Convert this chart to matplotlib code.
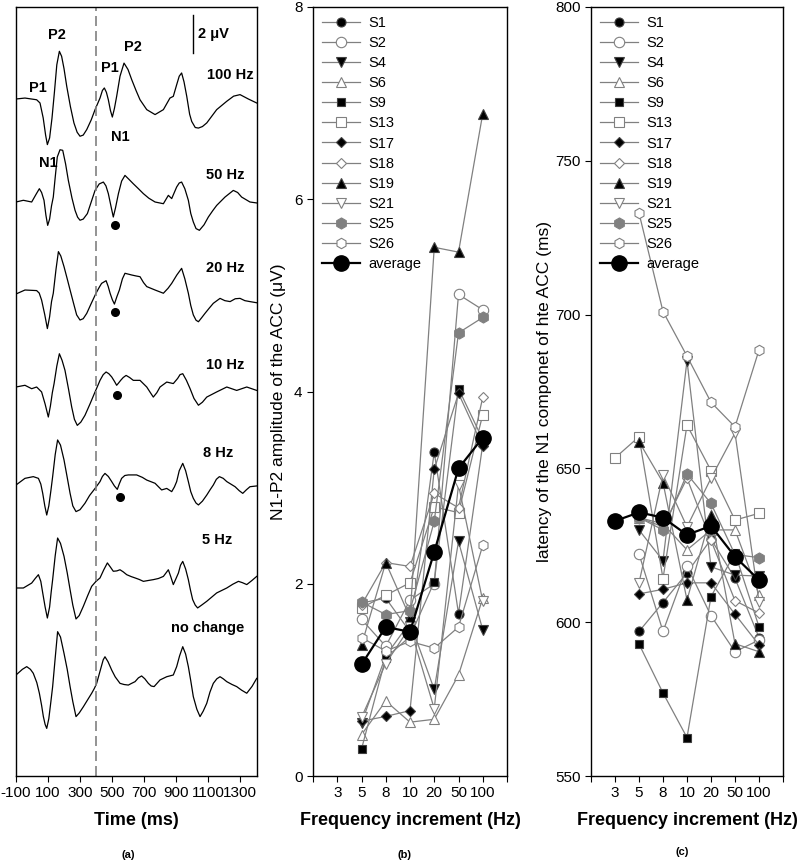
import numpy as np
import matplotlib
matplotlib.use('Agg')
import matplotlib.pyplot as plt

plt.rcParams['font.family'] = ['Liberation Sans', 'DejaVu Sans']
plt.rcParams['axes.unicode_minus'] = False

nan = np.nan

# ---- panel (a): averaged waveforms, time (ms) and amplitude (uV)
t_100 = [-100, -44, 29, 50, 70, 85, 96, 110, 125, 140, 155, 171, 185, 200, 217, 240, 262, 282, 300, 320, 342,
         370, 394, 425, 440, 452, 465, 477, 490, 502, 515, 529, 550, 575, 600, 623, 650, 675, 717, 769, 821,
         862, 883, 904, 920, 935, 950, 967, 985, 998, 1020, 1040, 1065, 1092, 1154, 1217, 1260, 1300, 1352, 1404]
w_100 = [0, 0.05, -0.04, -0.21, -1.0, -1.9, -2.40, -2.05, -1.0, 0.35, 1.8, 2.51, 2.25, 1.6, 0.67, -0.4, -1.26,
         -1.75, -1.96, -1.9, -1.61, -1.1, -0.56, 0.05, 0.45, 0.58, 0.35, -0.04, -0.6, -0.95, -0.5, 0.14, 1.2,
         1.89, 1.55, 1.02, 0.45, -0.04, -0.56, -0.82, -0.56, 0.05, 0.14, 0.75, 1.2, 1.37, 0.9, 0.14, -0.8,
         -1.18, -1.5, -1.53, -1.45, -1.26, -0.56, -0.12, 0.15, 0.23, 0, -0.21]

t_50 = [-100, -54, -2, 25, 46, 60, 75, 87, 98, 110, 122, 133, 145, 158, 175, 192, 210, 227, 250, 269, 285,
        300, 320, 346, 370, 394, 420, 446, 462, 477, 493, 508, 522, 540, 560, 581, 605, 633, 665, 696, 730,
        769, 821, 852, 873, 904, 920, 935, 955, 977, 992, 1008, 1025, 1046, 1075, 1102, 1130, 1154, 1206,
        1258, 1285, 1310, 1362, 1404]
w_50 = [0, 0.09, 0, 0.4, 0.70, 0.5, 0.09, -0.7, -1.23, -0.9, -0.2, 0.26, 1.3, 2.37, 2.75, 2.72, 2.0, 1.14,
        0.2, -0.44, -0.8, -0.96, -0.9, -0.61, 0.0, 0.61, 0.95, 1.05, 0.85, 0.44, -0.2, -0.79, -0.3, 0.44, 1.1,
        1.40, 1.2, 0.96, 0.7, 0.44, 0.2, 0, -0.09, 0.35, 0.18, 0.79, 1.0, 1.05, 0.7, 0.09, -0.6, -1.05, -1.4,
        -1.49, -1.2, -0.79, -0.45, -0.18, 0.26, 0.61, 0.5, 0.26, 0, -0.05]

t_20 = [-100, -44, 29, 45, 60, 80, 96, 110, 122, 133, 150, 165, 180, 200, 220, 238, 260, 279, 300, 320, 342,
        370, 400, 420, 435, 463, 476, 488, 502, 515, 530, 546, 565, 581, 600, 623, 650, 675, 697, 717, 769,
        821, 850, 873, 905, 935, 955, 977, 992, 1008, 1025, 1040, 1060, 1081, 1107, 1133, 1175, 1205, 1238,
        1270, 1300, 1330, 1362, 1404]
w_20 = [0, 0.21, 0.18, 0.05, -0.32, -1.1, -1.82, -1.2, -0.4, 0.04, 1.3, 2.23, 2.0, 1.44, 0.8, 0.21, -0.5,
        -1.10, -1.37, -1.3, -1.02, -0.5, 0.04, 0.35, 0.56, 0.70, 0.4, 0.04, -0.3, -0.53, -0.15, 0.21, 0.8,
        1.09, 1.05, 1.00, 0.95, 0.91, 0.6, 0.39, 0.21, 0.04, 0.3, 0.56, 1.0, 1.35, 0.8, 0.04, -0.6, -1.10,
        -1.38, -1.46, -1.25, -1.02, -0.75, -0.49, -0.23, -0.35, -0.40, -0.25, -0.23, -0.35, -0.40, -0.46]

t_10 = [-100, -44, -2, 29, 60, 82, 102, 115, 127, 138, 155, 171, 188, 206, 228, 248, 265, 283, 305, 331, 362,
        394, 410, 425, 445, 463, 480, 498, 515, 529, 540, 554, 570, 588, 610, 633, 675, 717, 740, 758, 780,
        800, 842, 883, 910, 925, 942, 965, 988, 1012, 1040, 1065, 1092, 1154, 1217, 1279, 1342, 1404]
w_10 = [0, 0.09, -0.09, 0, -0.26, -0.9, -1.58, -1.0, -0.3, 0.18, 1.1, 1.75, 1.4, 0.88, -0.1, -1.05, -1.7,
        -2.02, -1.85, -1.49, -0.9, -0.26, 0.05, 0.35, 0.65, 0.79, 0.7, 0.53, 0.3, 0.09, 0.2, 0.35, 0.5, 0.61,
        0.5, 0.35, 0.35, 0, -0.3, -0.53, -0.3, 0, 0.26, 0.18, 0.45, 0.65, 0.70, 0.35, -0.09, -0.6, -0.96,
        -0.8, -0.53, -0.26, 0, -0.18, 0, -0.18]

t_8 = [-100, -44, 8, 40, 55, 67, 80, 92, 105, 118, 129, 145, 160, 178, 200, 220, 238, 255, 275, 300, 331,
       360, 394, 425, 440, 456, 477, 498, 515, 533, 545, 560, 580, 602, 654, 690, 717, 769, 810, 842, 873,
       890, 904, 920, 942, 960, 977, 992, 1008, 1025, 1040, 1065, 1092, 1113, 1133, 1152, 1171, 1195, 1217,
       1269, 1295, 1317, 1340, 1362, 1404]
w_8 = [0, 0.35, 0.44, 0.35, 0.05, -0.44, -1.1, -1.58, -1.1, -0.3, 0.44, 1.6, 2.37, 2.1, 1.32, 0.4, -0.44,
       -1.1, -1.40, -1.3, -0.96, -0.55, -0.18, 0.18, 0.45, 0.61, 0.45, 0.18, -0.05, -0.23, 0.05, 0.35, 0.5,
       0.53, 0.53, 0.4, 0.26, 0.09, -0.26, -0.18, -0.35, -0.1, 0.18, 0.75, 1.14, 0.75, 0.18, -0.35, -0.70,
       -0.95, -1.05, -0.85, -0.53, -0.25, 0, 0.3, 0.44, 0.35, 0.18, -0.09, -0.3, -0.44, -0.25, -0.09, -0.05]

t_5 = [-100, -54, -2, 20, 40, 55, 67, 82, 96, 110, 120, 129, 145, 160, 178, 200, 220, 238, 255, 275, 295,
       321, 348, 373, 400, 425, 448, 471, 490, 508, 530, 550, 570, 592, 620, 644, 670, 696, 730, 758, 790,
       821, 838, 852, 867, 883, 900, 915, 928, 942, 960, 977, 990, 1004, 1020, 1035, 1060, 1092, 1154, 1217,
       1255, 1290, 1315, 1342, 1375, 1404]
w_5 = [0, 0, 0.26, 0.5, 0.70, 0.35, -0.26, -1.0, -1.58, -1.0, -0.2, 0.44, 1.7, 2.63, 2.35, 1.67, 0.8, -0.09,
       -0.9, -1.63, -1.45, -0.96, -0.4, 0.09, 0.35, 0.53, 0.95, 1.32, 1.1, 0.88, 0.9, 0.96, 0.85, 0.70, 0.6,
       0.53, 0.45, 0.35, 0.4, 0.44, 0.5, 0.61, 0.8, 0.96, 0.6, 0.18, 0.5, 0.79, 1.2, 1.40, 1.0, 0.44, -0.1,
       -0.61, -0.9, -1.05, -0.9, -0.70, -0.26, 0, 0.2, 0.35, 0.28, 0.18, 0.4, 0.61]

t_0 = [-100, -60, -33, -10, 8, 30, 46, 60, 71, 82, 92, 105, 118, 129, 145, 160, 178, 200, 220, 238, 255, 275,
       295, 321, 348, 373, 390, 404, 430, 445, 456, 475, 498, 520, 550, 575, 602, 620, 644, 665, 685, 705,
       727, 745, 763, 780, 800, 842, 883, 904, 922, 942, 960, 977, 992, 1008, 1030, 1050, 1070, 1092, 1112,
       1133, 1155, 1175, 1195, 1217, 1250, 1279, 1310, 1342, 1375, 1404]
w_0 = [0, 0.3, 0.44, 0.3, 0.09, -0.4, -0.96, -1.6, -2.19, -2.6, -2.81, -2.3, -1.4, -0.61, 0.9, 2.28, 2.0,
       1.14, 0.3, -0.61, -1.4, -2.19, -2.0, -1.67, -1.3, -0.96, -0.7, -0.44, 0.35, 0.8, 0.96, 0.7, 0.26, -0.1,
       -0.44, -0.5, -0.53, -0.45, -0.35, -0.15, -0.05, -0.2, -0.44, -0.58, -0.61, -0.45, -0.26, -0.09, 0,
       0.44, 1.0, 1.49, 1.1, 0.44, -0.3, -1.14, -1.8, -2.19, -1.9, -1.49, -0.9, -0.44, -0.2, -0.09, -0.2,
       -0.35, -0.5, -0.61, -0.8, -0.96, -0.6, -0.18]

trace_names = ['100 Hz', '50 Hz', '20 Hz', '10 Hz', '8 Hz', '5 Hz', 'no change']
trace_t = [t_100, t_50, t_20, t_10, t_8, t_5, t_0]
trace_w = [w_100, w_50, w_20, w_10, w_8, w_5, w_0]
n1_time = [519, 519, 533, 550]          # ACC N1 dots (50, 20, 10, 8 Hz)

# ---- panels (b) and (c)
freq_labels = ['3', '5', '8', '10', '20', '50', '100']
subjects = ['S1', 'S2', 'S4', 'S6', 'S9', 'S13', 'S17', 'S18', 'S19', 'S21', 'S25', 'S26']

amp_S1 = [nan, 1.80, 1.85, 1.50, 3.37, 1.69, 3.45]
amp_S2 = [nan, 1.63, 1.35, 1.83, 2.00, 5.01, 4.85]
amp_S4 = [nan, 0.55, 1.25, 1.60, 0.90, 2.44, 1.52]
amp_S6 = [nan, 0.43, 0.78, 0.56, 0.59, 1.05, 1.85]
amp_S9 = [nan, 0.28, 1.23, 1.45, 2.02, 4.03, 3.50]
amp_S13 = [nan, 1.75, 1.88, 2.01, 2.80, 2.74, 3.76]
amp_S17 = [nan, 0.57, 0.62, 0.68, 3.19, 3.98, 3.43]
amp_S18 = [nan, 1.78, 2.22, 2.18, 2.94, 2.79, 3.94]
amp_S19 = [nan, 1.36, 2.22, 1.65, 5.50, 5.45, 6.89]
amp_S21 = [nan, 0.61, 1.17, 1.55, 0.70, 3.03, 1.82]
amp_S25 = [nan, 1.81, 1.68, 1.72, 2.65, 4.61, 4.77]
amp_S26 = [nan, 1.44, 1.30, 1.40, 1.33, 1.55, 2.40]
amp_avg = [nan, 1.16, 1.55, 1.50, 2.33, 3.20, 3.52]

lat_S1 = [nan, 597, 606.4, 616, 627, 614.3, 595]
lat_S2 = [nan, 622.2, 597, 618.3, 602.1, 590.4, 594.2]
lat_S4 = [nan, 630, 620, 685, 618, 615.3, 615]
lat_S6 = [nan, 634, 632, 623.5, 630, 630, 609]
lat_S9 = [nan, 592.9, 577, 562.5, 608.3, 622.5, 598.5]
lat_S13 = [653.4, 660.3, 614.2, 664.1, 649.3, 633.2, 635.4]
lat_S17 = [nan, 609.2, 610.7, 612.8, 612.8, 602.6, 592.6]
lat_S18 = [nan, 634, 631, 646.8, 626.6, 607, 603]
lat_S19 = [nan, 658.7, 645.4, 607.2, 635, 593, 590.4]
lat_S21 = [nan, 612.8, 647.9, 631, 646.8, 661.5, 606.7]
lat_S25 = [nan, 634, 630, 648.2, 638.6, 622, 621]
lat_S26 = [nan, 733, 701, 686.5, 671.5, 663.5, 688.5]
lat_avg = [632.9, 635.7, 634, 628.4, 631.3, 621.3, 613.7]

amps = [amp_S1, amp_S2, amp_S4, amp_S6, amp_S9, amp_S13, amp_S17, amp_S18, amp_S19, amp_S21, amp_S25, amp_S26]
lats = [lat_S1, lat_S2, lat_S4, lat_S6, lat_S9, lat_S13, lat_S17, lat_S18, lat_S19, lat_S21, lat_S25, lat_S26]

GREY = '#808080'
styles = {
    'S1': ('o', 'black', 6.5), 'S2': ('o', 'white', 7.5), 'S4': ('v', 'black', 7),
    'S6': ('^', 'white', 7), 'S9': ('s', 'black', 6), 'S13': ('s', 'white', 6.5),
    'S17': ('D', 'black', 5.5), 'S18': ('D', 'white', 5.5), 'S19': ('^', 'black', 7),
    'S21': ('v', 'white', 7), 'S25': ('h', GREY, 8), 'S26': ('h', 'white', 7.5),
}

fig = plt.figure(figsize=(8, 8.66), dpi=100)
W, H = 800, 866


def box(x0, x1, y0=7, y1=776):
    return [x0 / W, 1 - y1 / H, (x1 - x0) / W, (y1 - y0) / H]


ax_a = fig.add_axes(box(16, 257))
ax_b = fig.add_axes(box(313, 507))
ax_c = fig.add_axes(box(591, 783))

# ---------------- (a)
UV = 19.0  # px per uV
bases = [99, 202, 294, 387, 485, 588, 675]
for t, w, b in zip(trace_t, trace_w, bases):
    ax_a.plot(t, b - np.array(w) * UV, color='black', lw=0.9, solid_joinstyle='round')
ax_a.plot(n1_time, [225, 312, 395, 497], 'o', color='black', ms=5.5)
ax_a.axvline(400, color=GREY, lw=1.2, dashes=(6, 3))
ax_a.plot([1006, 1006], [15, 53], color='black', lw=1)
ax_a.text(1040, 34, '2 \u03bcV', fontsize=10.5, fontweight='bold', va='center')

name_pos = [(1237, 75), (1206, 175), (1206, 268), (1206, 365), (1162, 453), (1156, 540), (1100, 628)]
for name, (x, y) in zip(trace_names, name_pos):
    ax_a.text(x, y, name, fontsize=10.5, fontweight='bold', ha='center', va='center', clip_on=False)
for lab, x, y in [('P2', 156, 35), ('P1', 37, 88), ('P1', 487, 68), ('P2', 631, 47),
                  ('N1', 550, 137), ('N1', 100, 163)]:
    ax_a.text(x, y, lab, fontsize=10.5, fontweight='bold', ha='center', va='center')

ax_a.set_xlim(-100, 1406)
ax_a.set_ylim(776, 7)
ax_a.set_yticks([])
ax_a.set_xticks(range(-100, 1400, 200))
ax_a.tick_params(axis='x', direction='out', length=4, labelsize=11)
ax_a.set_xlabel('Time (ms)', fontsize=13, fontweight='bold', labelpad=8)

# ---------------- (b) and (c)
pos = np.arange(len(freq_labels))
for ax, data, avg in [(ax_b, amps, amp_avg), (ax_c, lats, lat_avg)]:
    for name, vals in zip(subjects, data):
        m, fc, ms = styles[name]
        v = np.array(vals, dtype=float)
        ok = ~np.isnan(v)
        ax.plot(pos[ok], v[ok], color=GREY, lw=0.9, marker=m, ms=ms,
                mfc=fc, mec=GREY if fc != 'black' else '#404040', mew=0.8, label=name)
    a = np.array(avg, dtype=float)
    ok = ~np.isnan(a)
    ax.plot(pos[ok], a[ok], color='black', lw=1.6, marker='o', ms=11, mfc='black', mec='black',
            label='average')
    ax.set_xlim(-1, 7)
    ax.set_xticks(range(-1, 8))
    ax.set_xticklabels([''] + freq_labels + [''])
    ax.tick_params(direction='out', length=4, labelsize=11)
    ax.set_xlabel('Frequency increment (Hz)', fontsize=13, fontweight='bold', labelpad=8)
    ax.legend(loc='upper left', frameon=False, fontsize=10.5, handlelength=2.6, handletextpad=0.6,
              labelspacing=0.42, borderaxespad=0.3, borderpad=0.3)

ax_b.set_ylim(0, 8)
ax_b.set_yticks([0, 2, 4, 6, 8])
ax_b.set_ylabel('N1-P2 amplitude of the ACC (\u03bcV)', fontsize=12.5, labelpad=6)

ax_c.set_ylim(550, 800)
ax_c.set_yticks(range(550, 801, 50))
ax_c.set_ylabel('latency of the N1 componet of hte ACC (ms)', fontsize=12.5, labelpad=2)

for ax in (ax_a, ax_b, ax_c):
    for s in ax.spines.values():
        s.set_linewidth(1.0)

for lab, x, y in [('(a)', 128, 855), ('(b)', 405, 855), ('(c)', 682, 852)]:
    fig.text(x / W, 1 - y / H, lab, fontsize=8, fontweight='bold', ha='center', va='center')

fig.savefig('out.png', dpi=100)
